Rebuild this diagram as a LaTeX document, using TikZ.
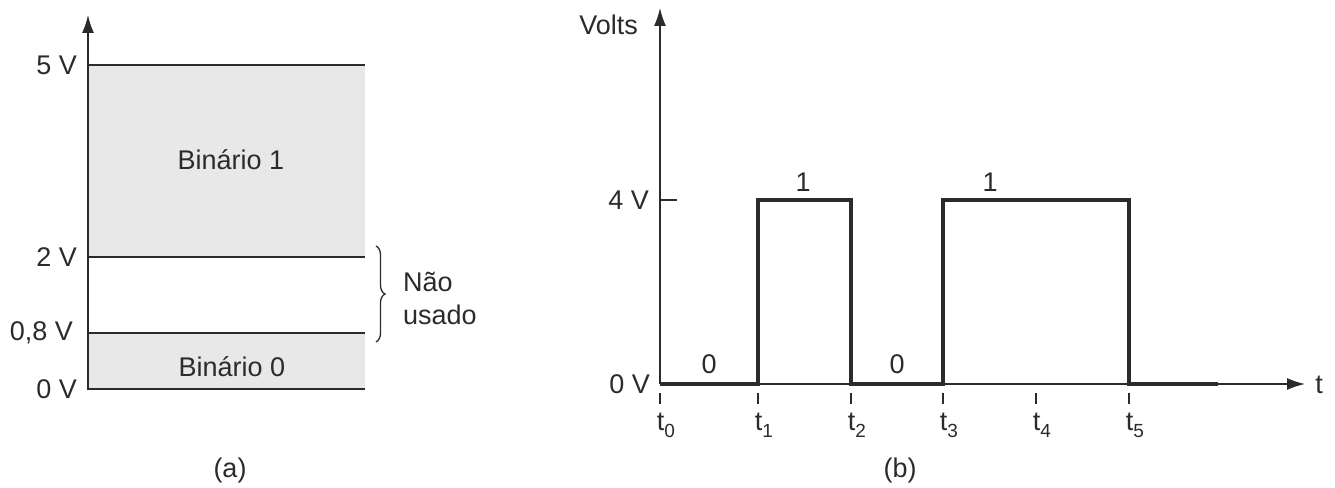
\documentclass[tikz,border=0pt]{standalone}
\usepackage{fontspec}
\setmainfont{Liberation Sans}
\usetikzlibrary{arrows.meta,decorations.pathreplacing}
\definecolor{ink}{HTML}{2B2B2B}
\definecolor{greyfill}{HTML}{E8E8E8}
\newcommand{\tsub}[1]{t\raisebox{-7pt}{\fontsize{19}{19}\selectfont #1}}
\begin{document}
\begin{tikzpicture}[x=1pt,y=-1pt,
  lbl/.style={font=\fontsize{27}{33}\selectfont,text=ink,inner sep=0pt},
  axis/.style={draw=ink,line width=1.5pt},
  level/.style={draw=ink,line width=2pt},
  pulse/.style={draw=ink,line width=3.5pt,line join=miter},
  tk/.style={draw=ink,line width=1.5pt},
  tip/.style={-{Latex[length=18pt,width=12pt]}}]
\useasboundingbox (0,0) rectangle (1335,487);
% ---- (a) ----
\fill[greyfill] (88,65) rectangle (365,257);
\fill[greyfill] (88,333) rectangle (365,389);
\draw[level] (88,65) -- (365,65);
\draw[level] (88,257) -- (365,257);
\draw[level] (88,333) -- (365,333);
\draw[level] (88,389) -- (365,389);
\coordinate (a0) at (88,390);
\coordinate (atop) at (88,15);
\draw[axis,tip] (a0) -- (atop);
\node[lbl,anchor=east] (v5) at (77,65) {5 V};
\node[lbl,anchor=east] (v2) at (77,257) {2 V};
\node[lbl,anchor=east] (v08) at (73,333) {0,8 V};
\node[lbl,anchor=east] (v0) at (77,389) {0 V};
\node[lbl] (b1) at (231,160) {Binário 1};
\node[lbl] (b0) at (232,367) {Binário 0};
\coordinate (brt) at (376,246);
\coordinate (brb) at (376,342);
\draw[ink,line width=1.3pt,decorate,decoration={brace,amplitude=9pt}] (brt) -- (brb);
\node[lbl,anchor=west,align=left] (nu) at (403,298) {Não\\usado};
\node[lbl] (la) at (230,471) {(a)};
% ---- (b) ----
\coordinate (o) at (660,384);
\coordinate (ytop) at (660,8);
\coordinate (xend) at (1305,384);
\draw[axis,tip] (o) -- (ytop);
\draw[axis,tip] (o) -- (xend);
\draw[tk] (660,200) -- (677,200);
\draw[pulse] (660,384) -- (758,384) -- (758,200) -- (851,200) -- (851,384) -- (943,384) -- (943,200) -- (1129,200) -- (1129,384) -- (1218,384);
\foreach \x/\n in {660/0,758/1,851/2,943/3,1036/4,1129/5}{
  \draw[tk] (\x,393) -- (\x,404);
  \node[lbl,anchor=base] (t\n) at (\x+6,430) {\tsub{\n}};
}
\node[lbl,anchor=east] (volts) at (638,25) {Volts};
\node[lbl,anchor=east] (v4) at (649,200) {4 V};
\node[lbl,anchor=east] (v0b) at (650,384) {0 V};
\node[lbl,anchor=base] (tt) at (1319,393) {t};
\node[lbl] (z1) at (709,364) {0};
\node[lbl] (z2) at (897,364) {0};
\node[lbl] (o1) at (803,182) {1};
\node[lbl] (o2) at (990,182) {1};
\node[lbl] (lb) at (900,471) {(b)};
\end{tikzpicture}
\end{document}
